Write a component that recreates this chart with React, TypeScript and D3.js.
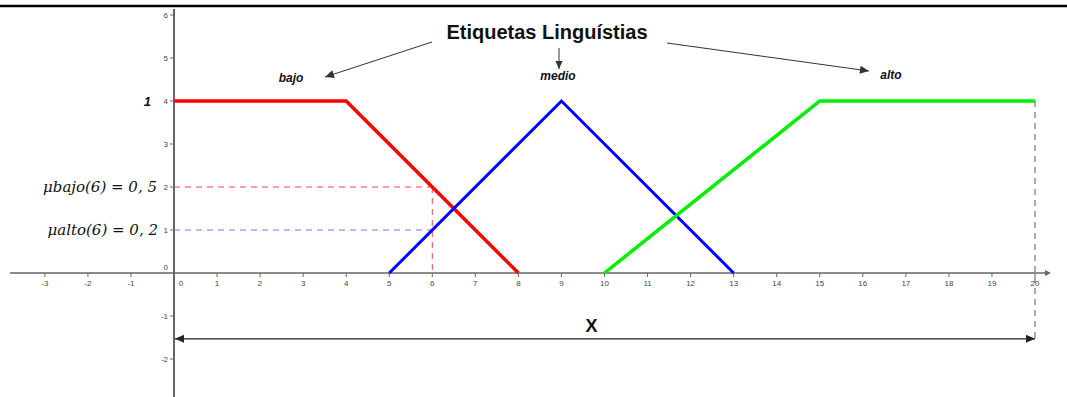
import React from "react";
import * as d3 from "d3";

// Membership functions, drawn in plot units (height 4 = membership 1)
const bajoPts: [number, number][] = [[0, 4], [4, 4], [8, 0]];
const medioPts: [number, number][] = [[5, 0], [9, 4], [13, 0]];
const altoPts: [number, number][] = [[10, 0], [15, 4], [20, 4]];

const xTicks = [-3, -2, -1, 0, 1, 2, 3, 4, 5, 6, 7, 8, 9, 10, 11, 12, 13, 14, 15, 16, 17, 18, 19, 20];
const yTicks = [-2, -1, 0, 1, 2, 3, 4, 5, 6];

// Evaluation point and its guide levels
const evalX = 6;
const bajoLevel = 2;
const altoLevel = 1;
const bajoLabel = "μbajo(6) = 0, 5";
const altoLabel = "μalto(6) = 0, 2";

const title = "Etiquetas Linguístias";
const termLabels = ["bajo", "medio", "alto"];

const W = 1067;
const H = 397;

const x = d3.scaleLinear().domain([0, 20]).range([174, 1035]);
const y = d3.scaleLinear().domain([0, 4]).range([273, 101]);

const line = d3
  .line<[number, number]>()
  .x((d) => x(d[0]))
  .y((d) => y(d[1]));

function Arrow({ x1, y1, x2, y2, size = 8, width = 1, color = "#222", both = false }: any) {
  const ang = Math.atan2(y2 - y1, x2 - x1);
  const head = (px: number, py: number, a: number) => {
    const w = size * 0.45;
    const bx = px - size * Math.cos(a);
    const by = py - size * Math.sin(a);
    const p1 = [bx + w * Math.sin(a), by - w * Math.cos(a)];
    const p2 = [bx - w * Math.sin(a), by + w * Math.cos(a)];
    return `M${px},${py}L${p1[0]},${p1[1]}L${p2[0]},${p2[1]}Z`;
  };
  return (
    <g>
      <line x1={x1} y1={y1} x2={x2} y2={y2} stroke={color} strokeWidth={width} />
      <path d={head(x2, y2, ang)} fill={color} />
      {both && <path d={head(x1, y1, ang + Math.PI)} fill={color} />}
    </g>
  );
}

export default function App() {
  const axisColor = "#666";
  const tickFont = { fontFamily: "Liberation Sans, Arial, sans-serif", fontSize: 8, fill: "#444" };
  const xLeft = 10;
  const xRight = 1051;
  return (
    <svg
      width={W}
      height={H}
      viewBox={`0 0 ${W} ${H}`}
      style={{ position: "absolute", left: 0, top: 0, background: "#fff" }}
    >
      <rect x={0} y={0} width={W} height={H} fill="#fff" />
      {/* frame line across the top */}
      <line x1={0} y1={6} x2={W} y2={6} stroke="#000" strokeWidth={2.5} />

      {/* axes */}
      <line x1={xLeft} y1={y(0)} x2={xRight - 4} y2={y(0)} stroke={axisColor} strokeWidth={1.5} />
      <path d={`M${xRight},${y(0)}L${xRight - 6},${y(0) - 3}L${xRight - 6},${y(0) + 3}Z`} fill={axisColor} />
      <line x1={x(0)} y1={9} x2={x(0)} y2={H} stroke={axisColor} strokeWidth={2} />

      {xTicks.map((t) => (
        <g key={"xt" + t}>
          {t !== 0 && <line x1={x(t)} y1={y(0)} x2={x(t)} y2={y(0) + 4} stroke={axisColor} strokeWidth={1} />}
          <text
            x={t === 0 ? x(t) + 7 : x(t)}
            y={y(0) + 13}
            textAnchor="middle"
            {...tickFont}
          >
            {t}
          </text>
        </g>
      ))}
      {yTicks.map((t) => (
        <g key={"yt" + t}>
          {t !== 0 && <line x1={x(0) - 4} y1={y(t)} x2={x(0)} y2={y(t)} stroke={axisColor} strokeWidth={1} />}
          <text
            x={x(0) - 6}
            y={t === 0 ? y(t) - 3 : y(t) + 3}
            textAnchor="end"
            {...tickFont}
          >
            {t}
          </text>
        </g>
      ))}

      {/* guide lines at x = 6 */}
      <line x1={x(0)} y1={y(bajoLevel)} x2={x(evalX)} y2={y(bajoLevel)} stroke="#ff4444" strokeWidth={1} strokeDasharray="6,5" />
      <line x1={x(evalX)} y1={y(bajoLevel)} x2={x(evalX)} y2={y(0)} stroke="#ff4444" strokeWidth={1} strokeDasharray="6,5" />
      <line x1={x(0)} y1={y(altoLevel)} x2={x(evalX)} y2={y(altoLevel)} stroke="#7777ff" strokeWidth={1} strokeDasharray="6,5" />

      {/* universe of discourse */}
      <line x1={x(20)} y1={y(4)} x2={x(20)} y2={y(-1.53)} stroke="#555" strokeWidth={1} strokeDasharray="6,5" />
      <Arrow x1={x(0) + 1} y1={y(-1.53)} x2={x(20)} y2={y(-1.53)} size={9} width={1.3} color="#222" both />
      <text
        x={x(9.7)}
        y={y(-1.37)}
        textAnchor="middle"
        fontFamily="Liberation Sans, Arial, sans-serif"
        fontWeight="bold"
        fontSize={18}
        fill="#111"
      >
        X
      </text>

      {/* membership functions */}
      <path d={line(bajoPts) || ""} fill="none" stroke="#ff0000" strokeWidth={3.5} />
      <path d={line(medioPts) || ""} fill="none" stroke="#0000ff" strokeWidth={3} />
      <path d={line(altoPts) || ""} fill="none" stroke="#00ee00" strokeWidth={3.5} />

      {/* labels */}
      <text x={151} y={y(4) + 5} textAnchor="end" fontFamily="Liberation Sans, Arial, sans-serif" fontWeight="bold" fontStyle="italic" fontSize={13} fill="#111">
        1
      </text>
      <text x={157} y={y(bajoLevel) + 5} textAnchor="end" fontFamily="DejaVu Serif, serif" fontStyle="italic" fontSize={15} fill="#111">
        {bajoLabel}
      </text>
      <text x={158} y={y(altoLevel) + 5} textAnchor="end" fontFamily="DejaVu Serif, serif" fontStyle="italic" fontSize={15} fill="#111">
        {altoLabel}
      </text>

      <text x={547} y={39} textAnchor="middle" fontFamily="Liberation Sans, Arial, sans-serif" fontWeight="bold" fontSize={20} fill="#111">
        {title}
      </text>
      <Arrow x1={432} y1={42} x2={325} y2={77} size={9} width={1} color="#333" />
      <Arrow x1={559} y1={48} x2={559} y2={69} size={8} width={1} color="#333" />
      <Arrow x1={667} y1={43} x2={869} y2={71} size={9} width={1} color="#333" />

      {[
        { t: termLabels[0], cx: 291, cy: 82 },
        { t: termLabels[1], cx: 558, cy: 80 },
        { t: termLabels[2], cx: 891, cy: 79 },
      ].map((d) => (
        <text
          key={d.t}
          x={d.cx}
          y={d.cy}
          textAnchor="middle"
          fontFamily="Liberation Sans, Arial, sans-serif"
          fontWeight="bold"
          fontStyle="italic"
          fontSize={12}
          fill="#111"
        >
          {d.t}
        </text>
      ))}
    </svg>
  );
}
